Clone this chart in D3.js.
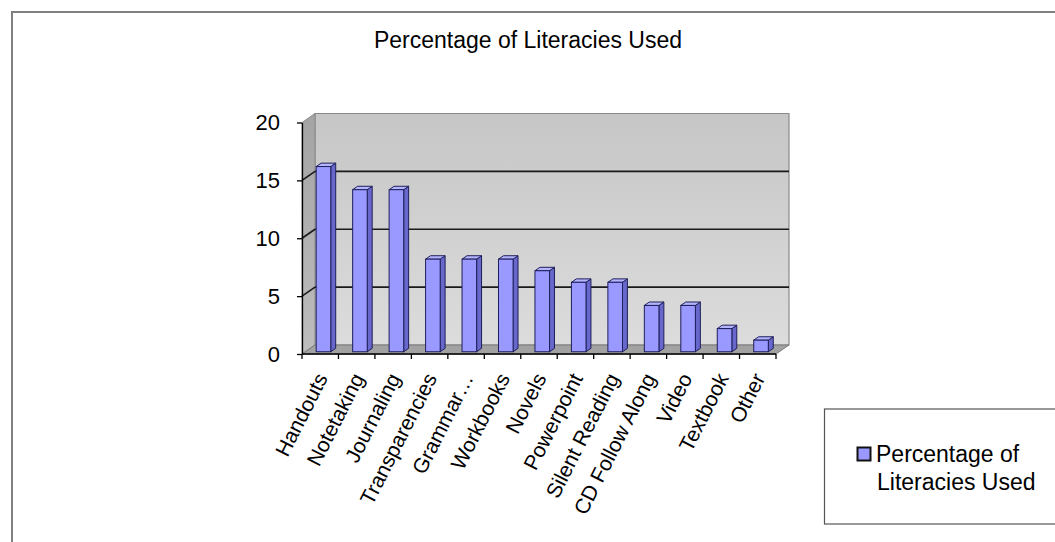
<!DOCTYPE html>
<html>
<head>
<meta charset="utf-8">
<script src="https://cdn.jsdelivr.net/npm/d3@7"></script>
<style>
  html, body { margin: 0; padding: 0; background: #ffffff; }
  svg { display: block; font-family: "Liberation Sans", Arial, sans-serif; }
</style>
</head>
<body>
<svg id="chart" width="1055" height="542"></svg>
<script>
// Survey results: share of each literacy type used in class
const categories = ["Handouts", "Notetaking", "Journaling", "Transparencies", "Grammar…",
  "Workbooks", "Novels", "Powerpoint", "Silent Reading", "CD Follow Along", "Video",
  "Textbook", "Other"];
const percentages = [16, 14, 14, 8, 8, 8, 7, 6, 6, 4, 4, 2, 1];
const yTicks = [0, 5, 10, 15, 20];
const chartTitle = "Percentage of Literacies Used";
const seriesName = ["Percentage of", "Literacies Used"];

const svg = d3.select("#chart");

// Outer chart frame
svg.append("path")
  .attr("d", "M12,542 L12,12 L1055,12")
  .attr("fill", "none").attr("stroke", "#808080").attr("stroke-width", 2);

// Front plane of the 3D plot box
const x = d3.scaleBand().domain(categories).range([302, 776]);
const y = d3.scaleLinear().domain([0, 20]).range([354, 122.5]);
const depth = { dx: 13, dy: -9 };
const x0 = 302, x1 = 776;

const defs = svg.append("defs");
const wallGrad = defs.append("linearGradient").attr("id", "wallGrad")
  .attr("x1", 0).attr("y1", 0).attr("x2", 0).attr("y2", 1);
wallGrad.append("stop").attr("offset", "0%").attr("stop-color", "#c6c6c6");
wallGrad.append("stop").attr("offset", "100%").attr("stop-color", "#dcdcdc");
const sideGrad = defs.append("linearGradient").attr("id", "sideGrad")
  .attr("x1", 0).attr("y1", 0).attr("x2", 0).attr("y2", 1);
sideGrad.append("stop").attr("offset", "0%").attr("stop-color", "#a4a4a4");
sideGrad.append("stop").attr("offset", "100%").attr("stop-color", "#bdbdbd");

const plot = svg.append("g");
const P = (px, py) => px + "," + py;

// Back wall
plot.append("polygon")
  .attr("points", [P(x0 + depth.dx, y(20) + depth.dy), P(x1 + depth.dx, y(20) + depth.dy),
                   P(x1 + depth.dx, y(0) + depth.dy), P(x0 + depth.dx, y(0) + depth.dy)].join(" "))
  .attr("fill", "url(#wallGrad)").attr("stroke", "#8a8a8a").attr("stroke-width", 1.2);

// Left side wall
plot.append("polygon")
  .attr("points", [P(x0, y(20)), P(x0 + depth.dx, y(20) + depth.dy),
                   P(x0 + depth.dx, y(0) + depth.dy), P(x0, y(0))].join(" "))
  .attr("fill", "url(#sideGrad)").attr("stroke", "#8a8a8a").attr("stroke-width", 1);

// Floor
plot.append("polygon")
  .attr("points", [P(x0, y(0)), P(x0 + depth.dx, y(0) + depth.dy),
                   P(x1 + depth.dx, y(0) + depth.dy), P(x1, y(0))].join(" "))
  .attr("fill", "#a2a2a2").attr("stroke", "#7a7a7a").attr("stroke-width", 1);

// Gridlines on back and side walls
const gridVals = yTicks.filter(v => v > 0 && v < 20);
plot.selectAll("line.grid").data(gridVals).join("line")
  .attr("class", "grid")
  .attr("x1", x0 + depth.dx).attr("x2", x1 + depth.dx)
  .attr("y1", d => y(d) + depth.dy).attr("y2", d => y(d) + depth.dy)
  .attr("stroke", "#1a1a1a").attr("stroke-width", 1.6);
plot.selectAll("line.gridSide").data(gridVals).join("line")
  .attr("class", "gridSide")
  .attr("x1", x0).attr("x2", x0 + depth.dx)
  .attr("y1", d => y(d)).attr("y2", d => y(d) + depth.dy)
  .attr("stroke", "#1a1a1a").attr("stroke-width", 1.6);

// 3D columns
const barBand = d3.scaleBand().domain(categories).range([302, 776]).paddingInner(0.6).paddingOuter(0.3);
const fFront = 0.25, fBack = 0.63;
const bars = plot.selectAll("g.bar").data(categories.map((c, i) => ({ c, v: percentages[i] })))
  .join("g").attr("class", "bar");
bars.each(function (d) {
  const g = d3.select(this);
  const fx = barBand(d.c) + depth.dx * fFront;
  const fy = depth.dy * fFront;
  const w = barBand.bandwidth();
  const bx = depth.dx * (fBack - fFront), by = depth.dy * (fBack - fFront);
  const top = y(d.v) + fy, bottom = y(0) + fy;
  // side face
  g.append("polygon")
    .attr("points", [P(fx + w, top), P(fx + w + bx, top + by), P(fx + w + bx, bottom + by), P(fx + w, bottom)].join(" "))
    .attr("fill", "#6868cc").attr("stroke", "#1e1e5a").attr("stroke-width", 1);
  // top face
  g.append("polygon")
    .attr("points", [P(fx, top), P(fx + bx, top + by), P(fx + w + bx, top + by), P(fx + w, top)].join(" "))
    .attr("fill", "#b4b4ff").attr("stroke", "#1e1e5a").attr("stroke-width", 1);
  // front face
  g.append("rect")
    .attr("x", fx).attr("y", top).attr("width", w).attr("height", bottom - top)
    .attr("fill", "#9999ff").attr("stroke", "#1e1e5a").attr("stroke-width", 1);
});

// Value axis
const yAxis = svg.append("g").attr("transform", `translate(${x0},0)`)
  .call(d3.axisLeft(y).tickValues(yTicks).tickSize(5).tickPadding(17).tickSizeOuter(0));
yAxis.select(".domain").attr("stroke", "#000").attr("stroke-width", 1.3);
yAxis.selectAll(".tick line").attr("stroke", "#000").attr("stroke-width", 1.3);
yAxis.selectAll(".tick text").attr("font-size", 22).attr("fill", "#000")
  .attr("font-family", "'Liberation Sans', Arial, sans-serif");

// Category axis
const xa = svg.append("g");
xa.append("line").attr("x1", x0).attr("x2", x1).attr("y1", y(0)).attr("y2", y(0))
  .attr("stroke", "#000").attr("stroke-width", 1.3);
const boundaries = categories.map(c => x(c)).concat([x.range()[1]]);
xa.selectAll("line.tick").data(boundaries).join("line").attr("class", "tick")
  .attr("x1", d => d).attr("x2", d => d).attr("y1", y(0)).attr("y2", y(0) + 5)
  .attr("stroke", "#000").attr("stroke-width", 1.3);
xa.selectAll("text").data(categories).join("text")
  .attr("transform", d => `translate(${x(d) + x.bandwidth() / 2 + 8},${y(0) + 24}) rotate(-63)`)
  .attr("text-anchor", "end").attr("font-size", 21).attr("fill", "#000")
  .text(d => d);

// Title
svg.append("text").attr("x", 528).attr("y", 48).attr("text-anchor", "middle")
  .attr("font-size", 23).attr("fill", "#000").text(chartTitle);

// Legend
const lg = svg.append("g");
lg.append("rect").attr("x", 824.5).attr("y", 409).attr("width", 240).attr("height", 115)
  .attr("fill", "#fff").attr("stroke", "#555").attr("stroke-width", 1.2);
lg.append("rect").attr("x", 857.5).attr("y", 447.5).attr("width", 13).attr("height", 13)
  .attr("fill", "#9999ff").attr("stroke", "#111").attr("stroke-width", 2);
lg.selectAll("text.leg").data(seriesName).join("text").attr("class", "leg")
  .attr("x", (d, i) => i === 0 ? 876 : 877).attr("y", (d, i) => 462 + i * 28)
  .attr("font-size", 23).attr("fill", "#000").text(d => d);
</script>
</body>
</html>
